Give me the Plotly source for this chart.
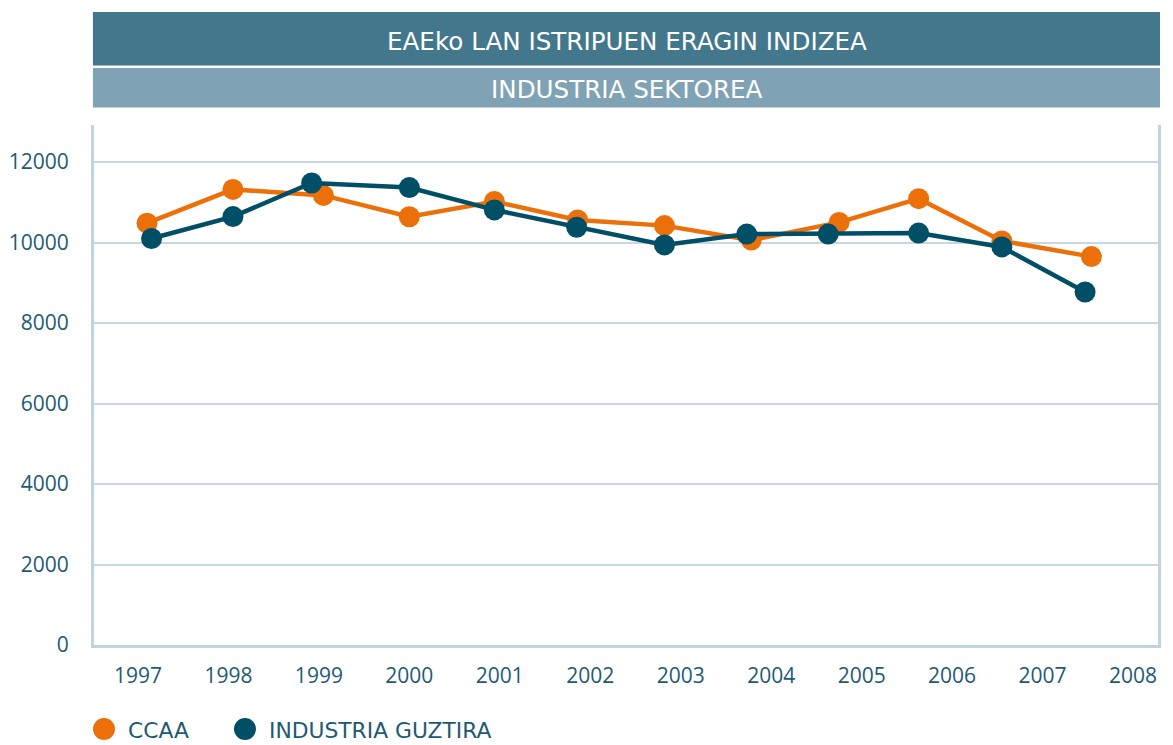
import plotly.graph_objects as go

# Data
years = [1997, 1998, 1999, 2000, 2001, 2002, 2003, 2004, 2005, 2006, 2007, 2008]
year_labels = [str(y) for y in years]

ccaa_x = [1997.10, 1998.05, 1999.05, 2000.00, 2000.94, 2001.86,
          2002.82, 2003.78, 2004.75, 2005.63, 2006.55, 2007.54]
ccaa_y = [10480, 11320, 11170, 10640, 11020, 10560,
          10420, 10060, 10500, 11090, 10040, 9650]

ind_x = [1997.15, 1998.05, 1998.92, 2000.00, 2000.94, 2001.85,
         2002.82, 2003.73, 2004.63, 2005.63, 2006.55, 2007.47]
ind_y = [10100, 10645, 11480, 11365, 10810, 10380,
         9940, 10210, 10210, 10235, 9890, 8770]

y_ticks = [0, 2000, 4000, 6000, 8000, 10000, 12000]
y_labels = ["0", "2000", "4000", "6000", "8000", "10000", "12000"]

title_main = "EAEko LAN ISTRIPUEN ERAGIN INDIZEA"
title_sub = "INDUSTRIA SEKTOREA"
series_names = ["CCAA", "INDUSTRIA GUZTIRA"]

ORANGE = "rgb(236,112,10)"
DARK = "rgb(0,79,102)"
TEXT = "rgb(30,90,115)"
GRID = "rgb(200,216,226)"
AXIS = "rgb(192,212,224)"
BAR1 = "rgb(67,119,140)"
BAR2 = "rgb(127,163,180)"
FONT = "Open Sans"
FONT_TXT = "DejaVu Sans"

fig = go.Figure()
fig.add_trace(go.Scatter(x=ccaa_x, y=ccaa_y, mode="lines+markers", name=series_names[0],
                         line=dict(color=ORANGE, width=4.5),
                         marker=dict(color=ORANGE, size=21), showlegend=False))
fig.add_trace(go.Scatter(x=ind_x, y=ind_y, mode="lines+markers", name=series_names[1],
                         line=dict(color=DARK, width=4.5),
                         marker=dict(color=DARK, size=21), showlegend=False))

shapes = [
    dict(type="rect", xref="paper", yref="paper", x0=-0.001, x1=1.0019, y0=1.1144, y1=1.2173,
         fillcolor=BAR1, line=dict(width=0), layer="below"),
    dict(type="rect", xref="paper", yref="paper", x0=-0.001, x1=1.0019, y0=1.0337, y1=1.1096,
         fillcolor=BAR2, line=dict(width=0), layer="below"),
]
annotations = [
    dict(text=title_main, xref="paper", yref="paper", x=0.5005, y=1.1615, showarrow=False,
         font=dict(family=FONT_TXT, size=24.6, color="white"), xanchor="center", yanchor="middle"),
    dict(text=title_sub, xref="paper", yref="paper", x=0.5005, y=1.0675, showarrow=False,
         font=dict(family=FONT_TXT, size=24.6, color="white"), xanchor="center", yanchor="middle"),
]
# manual legend
legend_items = [(0.0094, 0.0301, ORANGE, series_names[0]), (0.1419, 0.1626, DARK, series_names[1])]
for cx, tx, col, name in legend_items:
    shapes.append(dict(type="circle", xref="paper", yref="paper", xsizemode="pixel", ysizemode="pixel",
                       xanchor=cx, yanchor=-0.1615, x0=-11, x1=11, y0=-11, y1=11,
                       fillcolor=col, line=dict(width=0)))
    annotations.append(dict(text=name, xref="paper", yref="paper", x=tx, y=-0.1635, showarrow=False,
                            xanchor="left", yanchor="middle",
                            font=dict(family=FONT_TXT, size=21.8, color=TEXT)))

# page body adds an 8px offset; figure is sized/margined to compensate
fig.update_layout(
    width=1165, height=737,
    margin=dict(l=86, r=15, t=117, b=100, autoexpand=False),
    paper_bgcolor="white", plot_bgcolor="white",
    font=dict(family=FONT, size=21, color=TEXT),
    shapes=shapes, annotations=annotations,
    showlegend=False,
)
fig.update_xaxes(range=[1996.514, 2008.276], tickvals=years, ticktext=year_labels,
                 showgrid=False, zeroline=False, showline=True, linecolor=AXIS, linewidth=3,
                 ticks="", ticklabelstandoff=10, tickfont=dict(family=FONT, size=21, color=TEXT))
fig.update_yaxes(range=[0, 12920], tickvals=y_ticks, ticktext=y_labels,
                 showgrid=True, gridcolor=GRID, gridwidth=2, zeroline=False,
                 showline=True, linecolor=AXIS, linewidth=3, mirror=True,
                 ticks="", ticklabelstandoff=18, tickfont=dict(family=FONT, size=21, color=TEXT))

fig.write_html("out.html")
